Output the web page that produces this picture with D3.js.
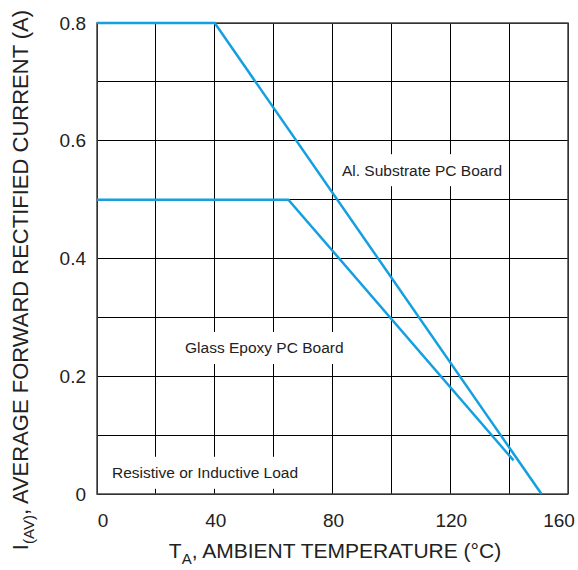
<!DOCTYPE html>
<html>
<head>
<meta charset="utf-8">
<script src="https://cdn.jsdelivr.net/npm/d3@7"></script>
<style>
  body { margin: 0; background: #fff; }
  text { font-family: "Liberation Sans", Arial, sans-serif; fill: #222; }
</style>
</head>
<body>
<div id="chart"></div>
<script>
// Data
const tempTicks = [0, 40, 80, 120, 160]
const currentTicks = [0, 0.2, 0.4, 0.6, 0.8]
const alTemp = [0, 40, 151]
const alCurrent = [0.8, 0.8, 0]
const glassTemp = [0, 65, 141.5]
const glassCurrent = [0.5, 0.5, 0.057]
const labels = [
  { text: "Al. Substrate PC Board", t: 83.2, a: 0.55 },
  { text: "Glass Epoxy PC Board", t: 29.9, a: 0.248 },
  { text: "Resistive or Inductive Load", t: 5.1, a: 0.036 }
]

// Margins, sizes
const W = 578, H = 570
const margin = { top: 23, right: 10, bottom: 76, left: 97 }
const width = W - margin.left - margin.right
const height = H - margin.top - margin.bottom

const svg = d3.select("#chart").append("svg")
  .attr("width", W).attr("height", H)

const g = svg.append("g").attr("transform", `translate(${margin.left},${margin.top})`)

// Scales
const x = d3.scaleLinear().domain([0, 160]).range([0, width])
const y = d3.scaleLinear().domain([0, 0.8]).range([height, 0])

// Grid
const grid = g.append("g").attr("shape-rendering", "crispEdges")
grid.selectAll(".vx").data(x.ticks(8)).join("line")
  .attr("x1", d => x(d)).attr("x2", d => x(d))
  .attr("y1", 0).attr("y2", height)
  .attr("stroke", "#000").attr("stroke-width", 1)
grid.selectAll(".hy").data(y.ticks(8)).join("line")
  .attr("y1", d => y(d)).attr("y2", d => y(d))
  .attr("x1", 0).attr("x2", width)
  .attr("stroke", "#000").attr("stroke-width", 1)

// frame
g.append("rect").attr("width", width).attr("height", height)
  .attr("fill", "none").attr("stroke", "#444").attr("stroke-width", 1.5)

// Labels with white boxes masking the grid
const lab = g.append("g")
labels.forEach(l => {
  const t = lab.append("text")
    .attr("x", x(l.t)).attr("y", y(l.a))
    .attr("dy", "0.35em")
    .attr("font-size", 15.5)
    .text(l.text)
  const bb = t.node().getBBox()
  lab.insert("rect", "text")
    .attr("x", bb.x - 5).attr("y", y(l.a) - 16)
    .attr("width", bb.width + 8).attr("height", 32)
    .attr("fill", "#fff")
})

// Curves
const line = d3.line().x(d => x(d[0])).y(d => y(d[1]))
const series = [d3.zip(alTemp, alCurrent), d3.zip(glassTemp, glassCurrent)]
g.selectAll(".curve").data(series).join("path")
  .attr("d", line)
  .attr("fill", "none")
  .attr("stroke", "#14a0e0")
  .attr("stroke-width", 2.5)

// Axes tick labels
const xaxis = g.append("g").attr("transform", `translate(0,${height})`)
xaxis.selectAll("text").data(tempTicks).join("text")
  .attr("x", d => x(d) + (d === 0 ? 6 : d === 160 ? -9 : 1))
  .attr("y", 33)
  .attr("text-anchor", "middle")
  .attr("font-size", 19)
  .text(d => d)

const yaxis = g.append("g")
yaxis.selectAll("text").data(currentTicks).join("text")
  .attr("x", -11)
  .attr("y", d => y(d))
  .attr("dy", "0.35em")
  .attr("text-anchor", "end")
  .attr("font-size", 19)
  .text(d => d === 0 ? "0" : d3.format(".1f")(d))

// Axis titles
const xt = svg.append("text")
  .attr("x", 335)
  .attr("y", 558)
  .attr("text-anchor", "middle")
  .attr("font-size", 21)
xt.append("tspan").text("T")
xt.append("tspan").attr("font-size", 15).attr("dy", 6).text("A")
xt.append("tspan").attr("dy", -6).text(", AMBIENT TEMPERATURE (°C)")

const yt = svg.append("text")
  .attr("transform", `translate(28,280) rotate(-90)`)
  .attr("text-anchor", "middle")
  .attr("font-size", 22)
yt.append("tspan").text("I")
yt.append("tspan").attr("font-size", 15).attr("dy", 6).text("(AV)")
yt.append("tspan").attr("dy", -6).text(", AVERAGE FORWARD RECTIFIED CURRENT (A)")
</script>
</body>
</html>
